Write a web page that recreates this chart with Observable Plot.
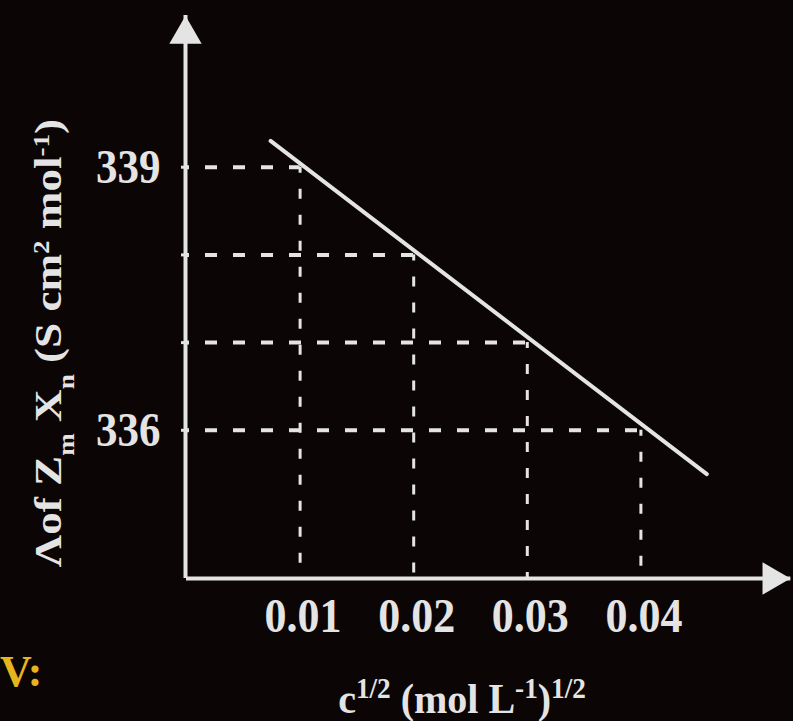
<!DOCTYPE html>
<html><head><meta charset="utf-8">
<script src="https://cdn.jsdelivr.net/npm/d3@7"></script>
<script src="https://cdn.jsdelivr.net/npm/@observablehq/plot@0.6"></script>
<style>
html,body{margin:0;padding:0;background:#0c0505;}
#chart{width:793px;height:721px;overflow:hidden;}
svg{display:block;}
</style></head><body><div id="chart"></div>
<script>
// Data
const concX = [0.01, 0.02, 0.03, 0.04];          // c^1/2 readings
const conductY = [339, 338, 337, 336];            // Λ readings
const fitX = [0.0074, 0.0458];                    // straight line ends
const fitY = [339.3, 335.5];
const yTicks = [339, 338, 337, 336];
const yTickLabels = ["339", "", "", "336"];
const xTicks = [0.01, 0.02, 0.03, 0.04];
const xTickLabels = ["0.01", "0.02", "0.03", "0.04"];

const readings = concX.map((x, i) => ({x, y: conductY[i]}));
const fit = fitX.map((x, i) => ({x, y: fitY[i]}));
const yLab = new Map(yTicks.map((t, i) => [t, yTickLabels[i]]));
const xLab = new Map(xTicks.map((t, i) => [t, xTickLabels[i]]));

const X0 = 0, Y0 = 334.31, XEND = 0.0532, YTOP = 340.73;
const fg = "#e4e4e4";
const font = "'Liberation Serif', 'Times New Roman', serif";

const plot = Plot.plot({
  width: 793, height: 721,
  marginLeft: 186, marginRight: 39, marginTop: 15, marginBottom: 143,
  style: {background: "transparent", color: fg, fontFamily: font, fontWeight: "bold", overflow: "visible"},
  x: {domain: [0, 0.05]},
  y: {domain: [Y0, YTOP]},
  marks: [
    Plot.axisX({ticks: xTicks, tickFormat: d => xLab.get(d), tickSize: 0, tickPadding: 19, fontSize: 44, label: null, fill: fg, dx: 3}),
    Plot.axisY({ticks: yTicks, tickFormat: d => yLab.get(d), tickSize: 5, tickPadding: 21, fontSize: 43, label: null, stroke: fg, strokeWidth: 3, fill: fg}),
    // dashed guides
    Plot.ruleY(readings, {y: "y", x1: X0, x2: "x", stroke: fg, strokeWidth: 4, strokeDasharray: "12,16", strokeDashoffset: 9}),
    Plot.ruleX(readings, {x: "x", y1: "y", y2: Y0, stroke: fg, strokeWidth: 3, strokeDasharray: "10,16", strokeDashoffset: 4}),
    // axes with arrows
    Plot.ruleX([X0], {y1: Y0, y2: YTOP, stroke: fg, strokeWidth: 4, dx: -1}),
    Plot.ruleY([Y0], {x1: X0, x2: XEND, stroke: fg, strokeWidth: 4}),
    Plot.dot([{x: X0, y: YTOP}], {x: "x", y: "y", symbol: "triangle", r: 12, fill: fg, stroke: "none", dy: 19, dx: -1}),
    Plot.dot([{x: XEND, y: Y0}], {x: "x", y: "y", symbol: "triangle", rotate: 90, r: 12, fill: fg, stroke: "none", dx: -19}),
    // fitted line
    Plot.line(fit, {x: "x", y: "y", stroke: fg, strokeWidth: 4})
  ]
});

const svg = d3.select(plot);
svg.selectAll("g[aria-label$='tick label'] text").each(function() {
  const t = this.getAttribute("transform") || "";
  this.setAttribute("transform", t + " scale(1,1.12)");
});

function addLabel(transform, parts, size, subScale) {
  const t = svg.append("text")
    .attr("transform", transform)
    .attr("text-anchor", "middle")
    .attr("fill", fg)
    .attr("font-family", font)
    .attr("font-weight", "bold")
    .attr("font-size", size);
  for (const [txt, shift] of parts) {
    const s = t.append("tspan").text(txt);
    if (shift) s.attr("baseline-shift", shift).attr("font-size", size * subScale);
  }
  return t;
}
addLabel("translate(462,713) scale(1,1.05)",
  [["c"], ["1/2", "super"], [" (mol L"], ["-1", "super"], [")"], ["1/2", "super"]], 40, 0.68);
addLabel("translate(61,343) rotate(-90) scale(1.22,1)",
  [["Λof Z"], ["m", "sub"], [" X"], ["n", "sub"], [" (S cm"], ["2", "super"], [" mol"], ["-1", "super"], [")"]], 37, 0.6);

svg.append("text")
  .attr("x", 0).attr("y", 686)
  .attr("text-anchor", "start")
  .attr("fill", "#e6b41e")
  .attr("font-family", font)
  .attr("font-weight", "bold")
  .attr("font-size", 44)
  .text("V:");

document.getElementById("chart").appendChild(plot);
</script>
</body></html>
